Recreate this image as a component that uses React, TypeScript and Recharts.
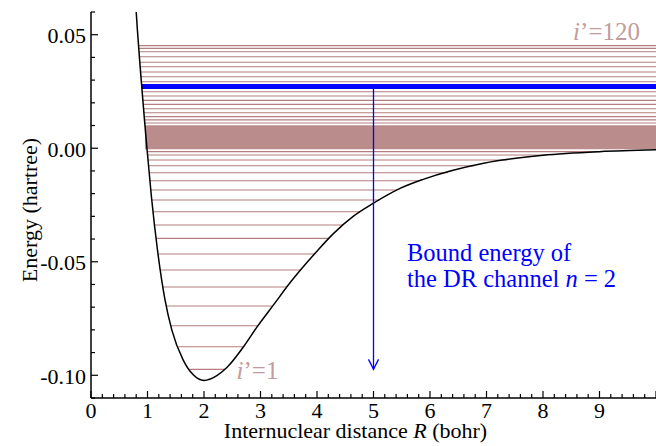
import React from 'react';
import { ComposedChart, Line, XAxis, YAxis, ReferenceArea, ReferenceDot } from 'recharts';

// Potential energy curve (R in bohr, E in hartree)
const curveR = [0.79, 0.82, 0.86, 0.90, 0.95, 0.99, 1.07, 1.175, 1.31, 1.43, 1.63, 1.81, 2.0, 2.22, 2.40, 2.70, 2.93, 3.23, 3.55, 3.99, 4.29, 4.64, 5.0, 5.47, 5.88, 6.95, 8.0, 9.0, 10.0];
const curveE = [0.064, 0.0525, 0.039, 0.0265, 0.0115, 0.0, -0.0215, -0.0445, -0.0668, -0.080, -0.0932, -0.0998, -0.1023, -0.1003, -0.0967, -0.0874, -0.0790, -0.0690, -0.0584, -0.0456, -0.0376, -0.0300, -0.0242, -0.0177, -0.0137, -0.0066, -0.0031, -0.0015, -0.0007];

// Vibrational levels below the dissociation limit
const boundLevels = [-0.0974, -0.0874, -0.0782, -0.0695, -0.0611, -0.0536, -0.0466, -0.0397, -0.0338, -0.0280, -0.0228, -0.0184, -0.0143, -0.0108, -0.0077, -0.0052, -0.0030, -0.0015];
// Discretized continuum levels above the dense band
const upperLevels = [0.0111, 0.0125, 0.0139, 0.0156, 0.0174, 0.0193, 0.0211, 0.0230, 0.0249, 0.0293, 0.0315, 0.0336, 0.0359, 0.0379, 0.0403, 0.0425, 0.0440, 0.0452];
// Dense band of continuum levels [low, high]
const denseBand = [-0.0005, 0.0101];
// DR channel bound energy
const blueLevel = 0.0272;
const arrowR = 5;
const arrowTipE = -0.0974;

const xMajorTicks = [0, 1, 2, 3, 4, 5, 6, 7, 8, 9, 10];
const yMajorTicks = [-0.10, -0.05, 0.0, 0.05];
const xTicks = Array.from({ length: 51 }, (_, i) => +(i * 0.2).toFixed(1));
const yTicks = Array.from({ length: 18 }, (_, i) => +((i - 11) / 100).toFixed(2));

const X_MAX = 10;
const FONT = '"Liberation Serif", "Times New Roman", Times, serif';
const TXT: React.CSSProperties = { fontFamily: FONT };
const LEVEL_COLOR = '#b47e7e';
const BAND_COLOR = '#bb8c8c';
const LABEL_COLOR = '#c29c9c';
const BLUE = '#0000ff';

const curveData = curveR.map((R, i) => ({ R, E: curveE[i] }));
const iMin = curveE.indexOf(Math.min(...curveE));

function leftTurn(e: number): number {
  for (let i = 0; i < iMin; i++) {
    const a = curveE[i], b = curveE[i + 1];
    if (a >= e && b <= e) return curveR[i] + (curveR[i + 1] - curveR[i]) * (a - e) / (a - b);
  }
  return curveR[0];
}
function rightTurn(e: number): number {
  for (let i = iMin; i < curveE.length - 1; i++) {
    const a = curveE[i], b = curveE[i + 1];
    if (a <= e && b >= e) return curveR[i] + (curveR[i + 1] - curveR[i]) * (e - a) / (b - a);
  }
  return X_MAX;
}

const isMajorX = (v: number) => xMajorTicks.some((t) => Math.abs(t - v) < 1e-6);
const isMajorY = (v: number) => yMajorTicks.some((t) => Math.abs(t - v) < 1e-6);

const MAJ = 7;
const MIN = 4;

function BottomTick(props: any) {
  const { x, y, payload } = props;
  const v = payload.value;
  const major = isMajorX(v);
  return (
    <g>
      <line x1={x} x2={x} y1={y} y2={y - (major ? MAJ : MIN)} stroke="#000" strokeWidth={1.2} />
      {major && v < X_MAX && (
        <text x={x} y={y + 20} textAnchor="middle" fontSize={22} style={TXT} fill="#000">{v}</text>
      )}
    </g>
  );
}
function TopTick(props: any) {
  const { x, y, payload } = props;
  const major = isMajorX(payload.value);
  return <line x1={x} x2={x} y1={y} y2={y + (major ? MAJ : MIN)} stroke="#000" strokeWidth={1.2} />;
}
function LeftTick(props: any) {
  const { x, y, payload } = props;
  const v = payload.value;
  const major = isMajorY(v);
  return (
    <g>
      <line x1={x} x2={x + (major ? MAJ : MIN)} y1={y} y2={y} stroke="#000" strokeWidth={1.2} />
      {major && (
        <text x={x - 5} y={y + 8.5} textAnchor="end" fontSize={22} style={TXT} fill="#000">{v.toFixed(2)}</text>
      )}
    </g>
  );
}
function RightTick(props: any) {
  const { x, y, payload } = props;
  const major = isMajorY(payload.value);
  return <line x1={x} x2={x - (major ? MAJ : MIN)} y1={y} y2={y} stroke="#000" strokeWidth={1.2} />;
}

const XTitle = (p: any) => {
  const vb = p.viewBox || { x: 91, y: 398, width: 565, height: 48 };
  return (
    <text x={vb.x + vb.width / 2 - 18} y={vb.y + 40} textAnchor="middle" fontSize={22} style={TXT} fill="#000">
      Internuclear distance <tspan fontStyle="italic">R</tspan> (bohr)
    </text>
  );
};
const YTitle = (p: any) => {
  const vb = p.viewBox || { x: 0, y: 12, width: 91, height: 386 };
  const cx = vb.x + 37;
  const cy = vb.y + vb.height / 2 + 5;
  return (
    <text x={cx} y={cy} transform={`rotate(-90, ${cx}, ${cy})`} textAnchor="middle" fontSize={22} style={TXT} fill="#000">
      Energy (hartree)
    </text>
  );
};

export default function App() {
  const levels = [...boundLevels, ...upperLevels].map((e) => ({ e, l: leftTurn(e), r: rightTurn(e) }));
  const bandLeft = leftTurn(denseBand[1]);
  const blueData = [{ R: leftTurn(blueLevel), E: blueLevel }, { R: X_MAX, E: blueLevel }];
  const arrowData = [{ R: arrowR, E: blueLevel }, { R: arrowR, E: arrowTipE }];
  const axisLine = { stroke: '#000', strokeWidth: 1.5 };

  return (
    <div style={{ position: 'absolute', left: 0, top: 0, width: 656, height: 446, overflow: 'hidden', background: '#fff', fontFamily: FONT }}>
      <ComposedChart width={656} height={446} margin={{ top: 12, right: 0, bottom: 0, left: 0 }} style={{ fontFamily: FONT }}>
        <XAxis xAxisId={0} dataKey="R" type="number" domain={[0, X_MAX]} allowDataOverflow ticks={xTicks} interval={0}
          tickSize={0} tickMargin={0} tick={<BottomTick />} height={48} axisLine={axisLine} tickLine={false} label={XTitle} />
        <XAxis xAxisId="t" orientation="top" dataKey="R" type="number" domain={[0, X_MAX]} allowDataOverflow ticks={xTicks} interval={0}
          tickSize={0} tickMargin={0} tick={<TopTick />} height={0} axisLine={axisLine} tickLine={false} />
        <YAxis yAxisId={0} type="number" domain={[-0.11, 0.06]} allowDataOverflow ticks={yTicks} interval={0}
          tickSize={0} tickMargin={0} tick={<LeftTick />} width={91} axisLine={axisLine} tickLine={false} label={YTitle} />
        <YAxis yAxisId="r" orientation="right" type="number" domain={[-0.11, 0.06]} allowDataOverflow ticks={yTicks} interval={0}
          tickSize={0} tickMargin={0} tick={<RightTick />} width={0} axisLine={axisLine} tickLine={false} />

        <ReferenceArea x1={bandLeft} x2={X_MAX} y1={denseBand[0]} y2={denseBand[1]} fill={BAND_COLOR} fillOpacity={1} stroke="none" />

        {levels.map((lv, i) => (
          <Line key={'lv' + i} data={[{ R: lv.l, E: lv.e }, { R: lv.r, E: lv.e }]} dataKey="E" type="linear"
            stroke={LEVEL_COLOR} strokeWidth={1.1} dot={false} activeDot={false} isAnimationActive={false} />
        ))}

        <Line data={blueData} dataKey="E" type="linear" stroke={BLUE} strokeWidth={5} dot={false} activeDot={false} isAnimationActive={false} />
        <Line data={curveData} dataKey="E" type="monotone" stroke="#000" strokeWidth={1.5} dot={false} activeDot={false} isAnimationActive={false} />
        <Line data={arrowData} dataKey="E" type="linear" stroke={BLUE} strokeWidth={1.3} dot={false} activeDot={false} isAnimationActive={false} />

        <ReferenceDot x={arrowR} y={arrowTipE} r={0} ifOverflow="visible"
          shape={(p: any) => (
            <path d={`M${p.cx - 5},${p.cy - 10} L${p.cx},${p.cy} L${p.cx + 5},${p.cy - 10}`} stroke={BLUE} strokeWidth={1.3} fill="none" />
          )} />

        <ReferenceDot x={5.593} y={-0.0496} r={0} ifOverflow="visible"
          shape={(p: any) => (
            <text x={p.cx} y={p.cy} fontSize={24.5} style={TXT} fill={BLUE}>
              <tspan x={p.cx}>Bound energy of</tspan>
              <tspan x={p.cx} dy={26}>the DR channel <tspan fontStyle="italic">n</tspan> = 2</tspan>
            </text>
          )} />

        <ReferenceDot x={2.577} y={-0.1016} r={0} ifOverflow="visible"
          shape={(p: any) => (
            <text x={p.cx} y={p.cy} fontSize={25} style={TXT} fill={LABEL_COLOR}>
              <tspan fontStyle="italic">i</tspan>’=1
            </text>
          )} />

        <ReferenceDot x={9.717} y={0.0477} r={0} ifOverflow="visible"
          shape={(p: any) => (
            <text x={p.cx} y={p.cy} textAnchor="end" fontSize={25} style={TXT} fill={LABEL_COLOR}>
              <tspan fontStyle="italic">i</tspan>’=120
            </text>
          )} />
      </ComposedChart>
    </div>
  );
}
